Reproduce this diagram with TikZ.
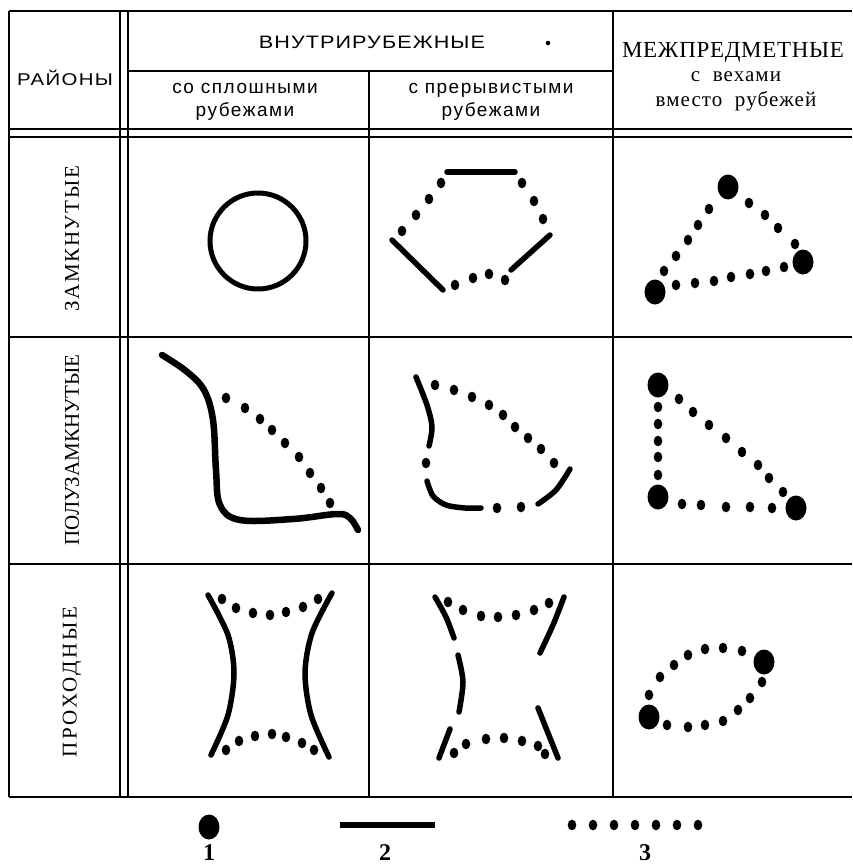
\documentclass[tikz,border=0pt]{standalone}
\usepackage{fontspec}
\setmainfont{Liberation Serif}
\newfontfamily\hsans{Liberation Sans}
\newfontfamily\hsanswide[FakeStretch=1.2]{Liberation Sans}
\begin{document}
\begin{tikzpicture}[x=1pt,y=-1pt,
  grid/.style={line width=1.2pt},
  rule/.style={line width=5.5pt,line cap=round,line join=round},
  sdot/.pic={\fill (0,0) ellipse [x radius=4.3pt, y radius=5.3pt];},
  bdot/.pic={\fill (0,0) ellipse [x radius=10.5pt, y radius=12.5pt];},
  hs/.style={font=\hsans\fontsize{19}{23}\selectfont\addfontfeature{LetterSpace=8}},
  rl/.style={font=\fontsize{21}{24}\selectfont,rotate=90},
  lab/.style={font=\bfseries\fontsize{24}{26}\selectfont}]
\useasboundingbox (0,0) rectangle (852,867);
% table
\draw[grid] (9,11) -- (852,11);
\draw[grid] (9,11) -- (9,797);
\draw[grid] (120,11) -- (120,797);
\draw[grid] (128,11) -- (128,797);
\draw[grid] (128,71) -- (613,71);
\draw[grid] (369,71) -- (369,797);
\draw[grid] (613,11) -- (613,797);
\draw[grid] (9,129) -- (852,129);
\draw[grid] (9,137) -- (852,137);
\draw[grid] (9,337) -- (852,337);
\draw[grid] (9,564) -- (852,564);
\draw[line width=1.8pt] (9,797) -- (852,797);
% header texts
\node[font=\hsanswide\fontsize{17}{20}\selectfont\addfontfeature{LetterSpace=8}] (raiony) at (65,78) {РАЙОНЫ};
\node[font=\hsanswide\fontsize{18}{20}\selectfont\addfontfeature{LetterSpace=6}] (vnutr) at (372,42) {ВНУТРИРУБЕЖНЫЕ};
\fill (548,43) circle (2.3pt);
\node[hs,align=center] (splosh) at (245,102) {со сплошными\\рубежами};
\node[hs,align=center] (prer) at (491,102) {с прерывистыми\\рубежами};
\node[font=\fontsize{23}{26}\selectfont\addfontfeature{LetterSpace=3}] (mezh) at (733,52) {МЕЖПРЕДМЕТНЫЕ};
\node[font=\fontsize{21}{25}\selectfont\addfontfeature{LetterSpace=5},align=center] (veh) at (736,91) {с\ \ вехами\\вместо\ \ рубежей};
% row labels
\node[rl,font=\fontsize{21}{24}\selectfont\addfontfeature{LetterSpace=8}] (zamk) at (72,239) {ЗАМКНУТЫЕ};
\node[rl] (polu) at (72,450) {ПОЛУЗАМКНУТЫЕ};
\node[rl,font=\fontsize{21}{24}\selectfont\addfontfeature{LetterSpace=13}] (proh) at (72,682) {ПРОХОДНЫЕ};
% row 1
\draw[line width=5pt] (258,241) circle (48pt);
\draw[rule] (447,172) -- (515,172);
\draw[rule] (392,240) -- (443,290);
\draw[rule] (511,270) -- (550,235);
\foreach \p in {(441,183),(429,199),(416,215),(402,231),(455,285),(473,278),(489,274),(505,280),(543,219),(534,201),(522,183)}
  \pic at \p {sdot};
\foreach \p in {(728,187),(803,262),(655,292)} \pic at \p {bdot};
\foreach \p in {(709,209),(698,225),(688,240),(676,256),(664,271),
  (749,203),(765,215),(778,228),(795,244),
  (676,285),(695,283),(714,281),(731,277),(750,274),(766,271),(784,267)}
  \pic at \p {sdot};
% row 2
\draw[line width=6.5pt,line cap=round,line join=round] plot[smooth,tension=0.6] coordinates
  {(162,355) (186,371) (204,390) (213,420) (216,470) (220,505) (240,520) (293,519) (337,514) (350,518) (358,530)};
\foreach \p in {(226,398),(245,408),(260,419),(272,430),(285,443),(299,457),(310,473),(321,488),(330,503)}
  \pic at \p {sdot};
\draw[rule] plot[smooth] coordinates {(416,377) (427,405) (432,427) (429,446)};
\draw[rule] plot[smooth] coordinates {(427,481) (433,496) (446,505) (465,508) (481,508)};
\draw[rule] plot[smooth] coordinates {(538,504) (556,490) (570,469)};
\foreach \p in {(426,463),(497,508),(521,507),
  (435,385),(454,390),(472,397),(489,405),(503,415),(515,427),(528,438),(541,449),(554,463)}
  \pic at \p {sdot};
\foreach \p in {(658,385),(658,497),(796,508)} \pic at \p {bdot};
\foreach \p in {(658,407),(658,424),(658,441),(658,457),(658,475),
  (679,399),(693,412),(709,425),(726,438),(742,452),(758,465),(769,478),(783,492),
  (682,504),(701,505),(726,507),(750,507),(772,508)}
  \pic at \p {sdot};
% row 3
\draw[rule] plot[smooth] coordinates {(208,595) (228,635) (234,673) (228,715) (211,755)};
\draw[rule] plot[smooth] coordinates {(332,593) (312,633) (305,673) (311,715) (329,757)};
\foreach \p in {(222,599),(236,608),(253,613),(270,615),(286,612),(303,607),(318,599),
  (226,750),(239,741),(255,736),(272,734),(286,737),(302,743),(314,750)}
  \pic at \p {sdot};
\draw[rule] plot[smooth] coordinates {(435,597) (446,617) (454,638)};
\draw[rule] plot[smooth] coordinates {(458,655) (463,682) (459,712)};
\draw[rule] (450,729) -- (439,758);
\draw[rule] plot[smooth] coordinates {(564,597) (553,625) (540,653)};
\draw[rule] (538,708) -- (558,758);
\foreach \p in {(448,602),(463,610),(481,616),(498,617),(516,615),(534,610),(549,603),
  (454,753),(466,744),(486,739),(504,738),(522,741),(538,746),(545,754)}
  \pic at \p {sdot};
\foreach \p in {(649,717),(764,662)} \pic at \p {bdot};
\foreach \p in {(649,695),(660,677),(674,665),(688,655),(705,649),(723,648),(742,651),
  (667,725),(688,727),(705,725),(723,721),(738,710),(750,698),(762,682)}
  \pic at \p {sdot};
% legend
\pic at (209,827) {bdot};
\draw[line width=6pt] (340,825) -- (435,825);
\foreach \x in {572,593,614,635,656,677,698} \pic at (\x,825) {sdot};
\node[lab] (l1) at (209,853) {1};
\node[lab] (l2) at (385,853) {2};
\node[lab] (l3) at (645,853) {3};
\end{tikzpicture}
\end{document}
